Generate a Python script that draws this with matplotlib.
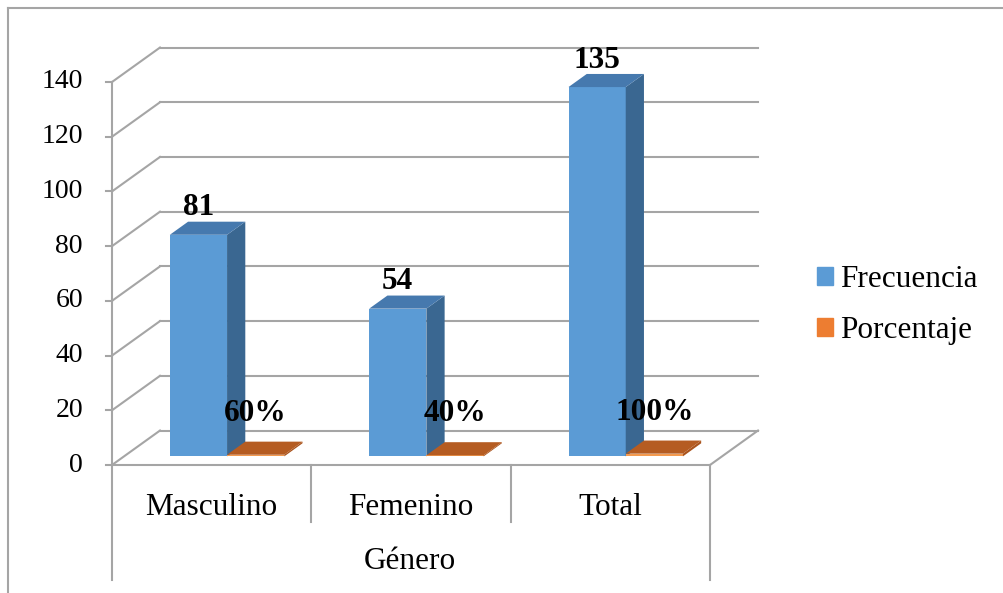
import matplotlib
matplotlib.use("Agg")
import matplotlib.pyplot as plt
from matplotlib.patches import Polygon, Patch
from matplotlib.lines import Line2D

categories = ["Masculino", "Femenino", "Total"]
frecuencia = [81, 54, 135]
porcentaje = [0.60, 0.40, 1.00]
yticks = [0, 20, 40, 60, 80, 100, 120, 140]
axis_title = "Género"
series_names = ["Frecuencia", "Porcentaje"]

plt.rcParams["font.family"] = ["Liberation Serif", "DejaVu Serif"]
FS_TICK = 20
FS = 22.5

# 3D look: back wall offset in data units, bar depth as a fraction of it
DX, DY = 0.2408, 12.6
D0, D1 = 0.25, 0.63
BAR_W = 0.287
GRID = "#A5A5A5"

blue = dict(front="#5B9BD5", side="#3A6791", top="#4679AE")
orange = dict(front="#F39A4F", side="#A9531C", top="#B55C22")

W, H = 1004, 593
fig = plt.figure(figsize=(W / 100, H / 100), dpi=100)
ax = fig.add_axes([0, 0, 1, 1])
# pixel mapping: x=0 -> 112px, x=3 -> 710px ; v=0 -> 465px, v=140 -> 82px
sx, sy = 598 / 3, 383 / 140
ax.set_xlim(-112 / sx, (W - 112) / sx)
ax.set_ylim(-(H - 465) / sy, 465 / sy)
ax.axis("off")

n = len(categories)

# walls and floor
for v in yticks:
    ax.plot([DX, n + DX], [v + DY, v + DY], color=GRID, lw=1.5, zorder=1)
    ax.plot([0, DX], [v, v + DY], color=GRID, lw=1.5, zorder=1)
    ax.plot([-6 / sx, 0], [v, v], color=GRID, lw=1.5, zorder=1)
    ax.text(-29 / sx, v, str(v), ha="right", va="center", fontsize=FS_TICK)
ax.plot([0, 0], [yticks[-1], -115 / sy], color=GRID, lw=1.5, zorder=1)
ax.plot([0, n], [0, 0], color=GRID, lw=1.5, zorder=1)
ax.plot([n, n + DX], [0, DY], color=GRID, lw=1.5, zorder=1)
ax.plot([n, n], [0, -115 / sy], color=GRID, lw=1.5, zorder=1)
for i in range(1, n):
    ax.plot([i, i], [0, -57 / sy], color=GRID, lw=1.5, zorder=1)

# category and axis titles
for i, c in enumerate(categories):
    ax.text(i + 0.5, -50 / sy, c, ha="center", va="baseline", fontsize=FS)
ax.text(n / 2 - 0.005, -104 / sy, axis_title, ha="center", va="baseline", fontsize=FS)


def bar3d(x0, h, col, z):
    b0 = D0 * DY
    xf = x0 + D0 * DX
    ax.bar(xf, h, width=BAR_W, bottom=b0, align="edge", color=col["front"],
           lw=0, zorder=z)
    ddx, ddy = (D1 - D0) * DX, (D1 - D0) * DY
    xr = xf + BAR_W
    side = [(xr, b0), (xr + ddx, b0 + ddy), (xr + ddx, b0 + h + ddy), (xr, b0 + h)]
    top = [(xf, b0 + h), (xf + ddx, b0 + h + ddy), (xr + ddx, b0 + h + ddy), (xr, b0 + h)]
    ax.add_patch(Polygon(side, closed=True, fc=col["side"], lw=0, zorder=z))
    ax.add_patch(Polygon(top, closed=True, fc=col["top"], lw=0, zorder=z))
    return xf + BAR_W / 2, b0 + h + (D1 - D0) * DY


for i in range(n):
    cx, ytop = bar3d(i + 0.23, frecuencia[i], blue, 3 + 2 * i)
    ax.text(cx, ytop + 2.3, str(frecuencia[i]), ha="center", va="baseline",
            fontsize=FS, fontweight="bold", zorder=20)
    cx, ytop = bar3d(i + 0.23 + BAR_W, porcentaje[i], orange, 4 + 2 * i)
    ax.text(cx, ytop + 7.6, f"{porcentaje[i]:.0%}", ha="center", va="baseline",
            fontsize=FS, fontweight="bold", zorder=20)

# legend
handles = [Patch(color=blue["front"]), Patch(color="#ED7D31")]
fig.legend(handles, series_names, loc="center left",
           bbox_to_anchor=(817 / W, 1 - 305 / H), frameon=False, fontsize=FS,
           handlelength=0.52, handleheight=0.52, handletextpad=0.22,
           labelspacing=0.69, borderpad=0, borderaxespad=0)

# chart area border (left and top edges)
fig.add_artist(Line2D([8 / W, 8 / W], [0, 1 - 8 / H], color=GRID, lw=1.5))
fig.add_artist(Line2D([8 / W, 1], [1 - 8 / H, 1 - 8 / H], color=GRID, lw=1.5))

fig.savefig("out.png", dpi=100)
